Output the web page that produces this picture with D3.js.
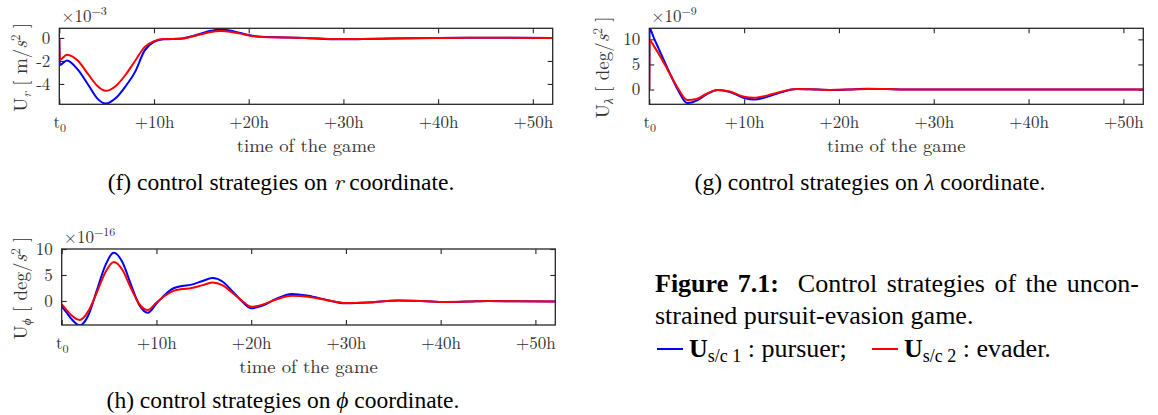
<!DOCTYPE html>
<html>
<head>
<meta charset="utf-8">
<script src="https://cdn.jsdelivr.net/npm/d3@7"></script>
<style>
  body { margin: 0; background: #fff; }
</style>
</head>
<body>
<div id="chart"></div>
<script>
// values (hours after t0, scaled by the exponent shown on each panel)

// (f) r coordinate, x1e-3 m/s^2
const hoursR = [0, 0.05, 0.8, 2, 3, 4, 4.9, 6, 7, 8, 9, 10, 11, 12, 13, 14, 15, 16, 17, 18,
  19, 20, 21, 22, 24, 26, 28, 30, 32, 35, 40, 45, 52.1];
const rPursuer = [0, -2.35, -1.95, -2.8, -4.0, -5.25, -5.7, -5.2, -4.2, -2.95, -1.1, -0.35, -0.12, -0.1, -0.05, 0.15, 0.4, 0.62, 0.74, 0.65,
  0.45, 0.25, 0.12, 0.08, 0.05, 0.0, -0.08, -0.12, -0.1, -0.05, 0.0, 0.02, 0.0];
const rEvader = [0, -1.9, -1.45, -2.0, -3.1, -4.15, -4.6, -4.15, -3.2, -2.0, -0.8, -0.27, -0.1, -0.08, -0.05, 0.12, 0.32, 0.52, 0.6, 0.55,
  0.4, 0.22, 0.1, 0.06, 0.04, 0.0, -0.07, -0.1, -0.08, -0.04, 0.0, 0.02, 0.0];

// (g) lambda coordinate, x1e-9 deg/s^2
const hoursLam = [0, 0.03, 0.5, 1, 2, 3, 4, 5, 6, 7.2, 8.5, 10, 11, 12, 13, 14, 15.5, 17, 19, 21,
  23, 25, 27, 30, 40, 52.1];
const lamPursuer = [0, 12.2, 10.2, 8.1, 3.9, 0.0, -2.7, -2.2, -1.0, -0.1, -0.5, -1.7, -2.0, -1.7, -1.1, -0.5, 0.1, 0.05, -0.1, 0.0,
  0.15, 0.1, 0.0, 0.0, 0.0, 0.0];
const lamEvader = [0, 9.8, 8.6, 7.1, 3.7, 0.3, -2.1, -1.9, -0.9, -0.1, -0.4, -1.45, -1.65, -1.4, -0.9, -0.4, 0.1, 0.05, -0.08, 0.0,
  0.12, 0.08, 0.0, 0.0, 0.0, 0.0];

// (h) phi coordinate, x1e-16 deg/s^2
const hoursPhi = [0, 0.5, 1, 1.9, 2.8, 3.7, 4.6, 5.5, 6.4, 7.3, 8.2, 9.1, 10, 10.9, 11.8, 12.7, 13.6, 14.8, 15.9, 17,
  18, 19, 20, 21.2, 22.5, 24.3, 26, 28, 30, 32.5, 35.5, 38, 40.5, 43, 45, 48, 52.1];
const phiPursuer = [-1.0, -2.2, -3.4, -4.7, -2.8, 2.0, 6.8, 9.3, 7.5, 3.2, -0.8, -2.25, -0.5, 1.2, 2.45, 2.9, 3.1, 3.8, 4.4, 3.7,
  1.9, 0.0, -1.4, -0.9, 0.3, 1.35, 1.0, 0.2, -0.45, -0.3, 0.1, 0.0, -0.2, -0.1, 0.0, -0.05, -0.1];
const phiEvader = [-0.6, -1.7, -2.7, -3.65, -2.0, 1.6, 5.5, 7.5, 6.0, 2.5, -0.6, -1.75, -0.3, 1.0, 1.95, 2.3, 2.45, 3.0, 3.55, 3.0,
  1.6, 0.1, -1.1, -0.7, 0.2, 1.0, 0.8, 0.15, -0.4, -0.25, 0.1, 0.0, -0.18, -0.1, 0.0, -0.05, -0.1];

// ticks
const xTickValues = [0, 10, 20, 30, 40, 50];
const xTickLabels = ["t0", "+10h", "+20h", "+30h", "+40h", "+50h"];
const rTicks = [0, -2, -4];
const lamTicks = [0, 5, 10];
const phiTicks = [0, 5, 10];

const width = 1158;
const height = 415;
const axisFont = '"Latin Modern Roman", "Liberation Serif", serif';
const textFont = '"Liberation Serif", "Times New Roman", serif';
const axisColor = "#262626";
const labelColor = "#333";
const pursuerColor = "#0000ff";
const evaderColor = "#ff0000";

const svg = d3.select("#chart")
  .append("svg")
  .attr("width", width)
  .attr("height", height);

const panels = [
  {id: "f", left: 59.3, right: 552.7, top: 28.3, bottom: 104.3, yDomain: [-5.77, 0.84],
    hours: hoursR, pursuer: rPursuer, evader: rEvader, yTicks: rTicks, exp: "\u22123",
    sub: "r", unit: "m", ylabelX: 27, capSym: "r", capX: 281, capY: 190},
  {id: "g", left: 649.3, right: 1143.3, top: 28.3, bottom: 104.3, yDomain: [-2.95, 12.2],
    hours: hoursLam, pursuer: lamPursuer, evader: lamEvader, yTicks: lamTicks, exp: "\u22129",
    sub: "\u03bb", unit: "deg", ylabelX: 609, capSym: "\u03bb", capX: 870, capY: 190},
  {id: "h", left: 61.7, right: 555.3, top: 249, bottom: 325, yDomain: [-4.62, 10],
    hours: hoursPhi, pursuer: phiPursuer, evader: phiEvader, yTicks: phiTicks, exp: "\u221216",
    sub: "\u03d5", unit: "deg", ylabelX: 27, capSym: "\u03d5", capX: 283, capY: 408}
];

panels.forEach(drawPanel);

function drawPanel(p) {
  const x = d3.scaleLinear().domain([0, 52.1]).range([p.left, p.right]);
  const y = d3.scaleLinear().domain(p.yDomain).range([p.bottom, p.top]);
  const g = svg.append("g").attr("font-family", axisFont);

  // clip the curves to the box
  svg.append("clipPath").attr("id", "clip-" + p.id)
    .append("rect")
    .attr("x", p.left).attr("y", p.top)
    .attr("width", p.right - p.left).attr("height", p.bottom - p.top);

  // inward ticks on all four sides (matlab "box on")
  const bottomAxis = g.append("g")
    .attr("transform", `translate(0,${p.bottom})`)
    .call(d3.axisBottom(x).tickValues(xTickValues).tickSize(-5).tickSizeOuter(0).tickPadding(12)
      .tickFormat((d, i) => xTickLabels[i]));
  g.append("g")
    .attr("transform", `translate(0,${p.top})`)
    .call(d3.axisTop(x).tickValues(xTickValues).tickSize(-5).tickSizeOuter(0).tickFormat(""));
  g.append("g")
    .attr("transform", `translate(${p.left},0)`)
    .call(d3.axisLeft(y).tickValues(p.yTicks).tickSize(-5).tickSizeOuter(0).tickPadding(9)
      .tickFormat(d => d < 0 ? "-" + Math.abs(d) : d));
  g.append("g")
    .attr("transform", `translate(${p.right},0)`)
    .call(d3.axisRight(y).tickValues(p.yTicks).tickSize(-5).tickSizeOuter(0).tickFormat(""));

  g.selectAll("g").attr("font-family", axisFont).attr("font-size", 17);
  g.selectAll(".domain").remove();
  g.selectAll(".tick line").attr("stroke", axisColor).attr("stroke-width", 1.1);
  g.selectAll(".tick text").attr("fill", labelColor);

  // t0 gets a subscript
  bottomAxis.selectAll(".tick text")
    .filter((d, i) => i === 0)
    .text("t")
    .append("tspan").attr("dy", 4).attr("font-size", 12).text("0");

  // curves
  const line = d3.line()
    .x((d, i) => x(p.hours[i]))
    .y(d => y(d))
    .curve(d3.curveMonotoneX);

  const curves = g.append("g").attr("clip-path", `url(#clip-${p.id})`);
  curves.append("path")
    .datum(p.pursuer)
    .attr("d", line)
    .attr("fill", "none")
    .attr("stroke", pursuerColor)
    .attr("stroke-width", 2);
  curves.append("path")
    .datum(p.evader)
    .attr("d", line)
    .attr("fill", "none")
    .attr("stroke", evaderColor)
    .attr("stroke-width", 2);

  // box
  g.append("rect")
    .attr("x", p.left).attr("y", p.top)
    .attr("width", p.right - p.left).attr("height", p.bottom - p.top)
    .attr("fill", "none")
    .attr("stroke", axisColor)
    .attr("stroke-width", 1.3);

  // exponent
  const expText = g.append("text")
    .attr("x", p.left + 2)
    .attr("y", p.top - 6.5)
    .attr("fill", labelColor)
    .attr("font-size", 17)
    .text("\u00d710");
  expText.append("tspan").attr("dy", -7).attr("font-size", 12).text(p.exp);

  // x label
  g.append("text")
    .attr("x", (p.left + p.right) / 2)
    .attr("y", p.bottom + 48)
    .attr("text-anchor", "middle")
    .attr("fill", labelColor)
    .attr("font-size", 18.7)
    .text("time of the game");

  // y label, rotated
  const cy = (p.top + p.bottom) / 2 + 1;
  const yl = g.append("text")
    .attr("transform", `translate(${p.ylabelX},${cy}) rotate(-90)`)
    .attr("text-anchor", "middle")
    .attr("fill", labelColor)
    .attr("font-size", 19);
  yl.append("tspan").text("U");
  yl.append("tspan").attr("dy", 4).attr("font-size", 13).attr("font-style", "italic").text(p.sub);
  yl.append("tspan").attr("dy", -4).text(" [ " + p.unit + "/");
  yl.append("tspan").attr("font-style", "italic").text("s");
  yl.append("tspan").attr("dy", -7).attr("font-size", 13).text("2");
  yl.append("tspan").attr("dy", 7).text(" ]");

  // subfigure caption
  const cap = svg.append("text")
    .attr("x", p.capX)
    .attr("y", p.capY)
    .attr("text-anchor", "middle")
    .attr("font-family", textFont)
    .attr("fill", "#000")
    .attr("font-size", 23.5)
    .text(`(${p.id}) control strategies on `);
  cap.append("tspan").attr("font-family", axisFont).attr("font-style", "italic").text(p.capSym);
  cap.append("tspan").text(" coordinate.");
}

// figure caption with the legend
const capLeft = 655;
const capRight = 1136;
const caption = svg.append("g")
  .attr("fill", "#000")
  .attr("font-family", textFont)
  .attr("font-size", 26);

// first line is justified: widen the word gaps until it reaches the right margin
const line1 = caption.append("text").attr("x", capLeft).attr("y", 292);
line1.append("tspan").attr("font-weight", "bold").text("Figure 7.1:");
line1.append("tspan").text("\u00a0 Control strategies of the uncon-");
const natural = line1.node().getComputedTextLength();
line1.attr("word-spacing", Math.max(0, (capRight - capLeft - natural) / 6));

caption.append("text")
  .attr("x", capLeft).attr("y", 324)
  .text("strained pursuit-evasion game.");

const legendItems = [
  {color: pursuerColor, sub: "s/c 1", label: ": pursuer;", x: 657},
  {color: evaderColor, sub: "s/c 2", label: ": evader.", x: 872}
];
legendItems.forEach(item => {
  caption.append("line")
    .attr("x1", item.x).attr("x2", item.x + 26)
    .attr("y1", 349).attr("y2", 349)
    .attr("stroke", item.color)
    .attr("stroke-width", 2);
  const t = caption.append("text").attr("x", item.x + 32).attr("y", 357);
  t.append("tspan").attr("font-weight", "bold").text("U");
  t.append("tspan").attr("dy", 5).attr("font-size", 18).text(item.sub);
  t.append("tspan").attr("dy", -5).text(" " + item.label);
});
</script>
</body>
</html>
